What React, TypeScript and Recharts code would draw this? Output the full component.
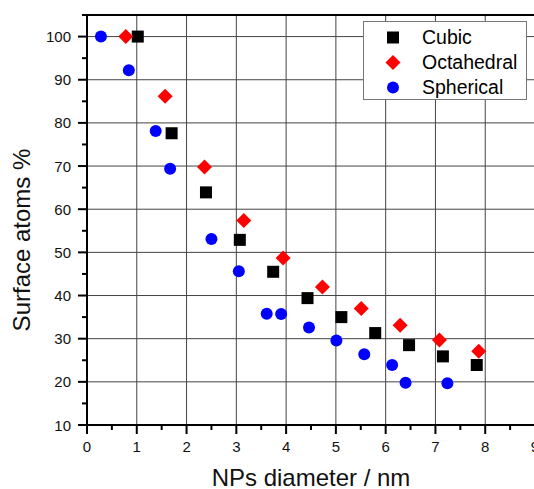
import {
  Legend,
  ReferenceLine,
  Scatter,
  ScatterChart,
  XAxis,
  YAxis,
} from "recharts";

const FONT = '"Liberation Sans", Arial, sans-serif';

const cubicX = [1.02, 1.7, 2.39, 3.07, 3.74, 4.43, 5.11, 5.79, 6.47, 7.15, 7.83];
const cubicY = [100, 77.6, 63.9, 52.9, 45.5, 39.4, 35.0, 31.3, 28.5, 25.9, 23.9];
const octaX = [0.78, 1.57, 2.36, 3.15, 3.94, 4.73, 5.51, 6.29, 7.08, 7.87];
const octaY = [100, 86.2, 69.8, 57.4, 48.7, 42.0, 37.0, 33.1, 29.7, 27.1];
const spherX = [0.28, 0.84, 1.38, 1.67, 2.5, 3.05, 3.61, 3.9, 4.46, 5.01, 5.57, 6.13, 6.4, 7.24];
const spherY = [100, 92.2, 78.1, 69.4, 53.1, 45.6, 35.8, 35.7, 32.6, 29.6, 26.4, 23.9, 19.8, 19.7];

const xTicks = [0, 0.5, 1, 1.5, 2, 2.5, 3, 3.5, 4, 4.5, 5, 5.5, 6, 6.5, 7, 7.5, 8, 8.5, 9];
const yTicks = [10, 15, 20, 25, 30, 35, 40, 45, 50, 55, 60, 65, 70, 75, 80, 85, 90, 95, 100, 105];
const xGrid = [1, 2, 3, 4, 5, 6, 7, 8];
const yGrid = [20, 30, 40, 50, 60, 70, 80, 90, 100];

const zip = (xs: number[], ys: number[]) => xs.map((x, i) => ({ x, y: ys[i] }));

const SquareDot = ({ cx, cy }: any) => <rect x={cx - 6} y={cy - 6} width={12} height={12} fill="#000" />;
const DiamondDot = ({ cx, cy }: any) => (
  <path d={`M${cx},${cy - 7.5}L${cx + 7.5},${cy}L${cx},${cy + 7.5}L${cx - 7.5},${cy}Z`} fill="#ff0000" />
);
const CircleDot = ({ cx, cy }: any) => <circle cx={cx} cy={cy} r={6} fill="#0000ff" />;

const series = [
  { name: "Cubic", data: zip(cubicX, cubicY), shape: SquareDot },
  { name: "Octahedral", data: zip(octaX, octaY), shape: DiamondDot },
  { name: "Spherical", data: zip(spherX, spherY), shape: CircleDot },
];

const isMajor = (v: number) => v % 1 === 0;

function XTick({ x, y, payload }: any) {
  const v = payload.value;
  const major = isMajor(v);
  return (
    <g>
      <line x1={x} x2={x} y1={y} y2={y + (major ? 9 : 5)} stroke="#000" strokeWidth={2} />
      {major && (
        <text x={x} y={y + 27} textAnchor="middle" fontSize={15} fontFamily={FONT} fill="#111">
          {v}
        </text>
      )}
    </g>
  );
}

function YTick({ x, y, payload }: any) {
  const v = payload.value;
  const major = v % 10 === 0;
  return (
    <g>
      <line x1={x - (major ? 9 : 5)} x2={x} y1={y} y2={y} stroke="#000" strokeWidth={2} />
      {major && (
        <text x={x - 16} y={y + 5.5} textAnchor="end" fontSize={15} fontFamily={FONT} fill="#111">
          {v}
        </text>
      )}
    </g>
  );
}

function LegendBox() {
  return (
    <div
      style={{
        background: "#fff",
        border: "1px solid #777",
        boxSizing: "border-box",
        width: 164,
        height: 79,
        paddingTop: 3,
        fontFamily: FONT,
        fontSize: 19.5,
        color: "#000",
      }}
    >
      {series.map((s) => (
        <div key={s.name} style={{ display: "flex", alignItems: "center", height: 25 }}>
          <svg width={58} height={25} style={{ display: "block" }}>
            <s.shape cx={29} cy={12.5} />
          </svg>
          <span>{s.name}</span>
        </div>
      ))}
    </div>
  );
}

export default function App() {
  return (
    <div style={{ position: "absolute", left: 0, top: 0, width: 534, height: 489, overflow: "hidden", background: "#fff" }}>
      <ScatterChart width={545} height={489} margin={{ top: 15, right: 10, bottom: 0, left: 0 }}>
        <XAxis
          type="number"
          dataKey="x"
          domain={[0, 9]}
          ticks={xTicks}
          interval={0}
          tickSize={0}
          tickMargin={0}
          tickLine={false}
          tick={<XTick />}
          height={64}
          axisLine={{ stroke: "#000", strokeWidth: 2 }}
          label={{
            value: "NPs diameter / nm",
            position: "insideBottom",
            offset: 3,
            fontSize: 24,
            fontFamily: FONT,
            fill: "#111",
          }}
        />
        <YAxis
          type="number"
          dataKey="y"
          domain={[10, 105]}
          ticks={yTicks}
          interval={0}
          tickSize={0}
          tickMargin={0}
          tickLine={false}
          tick={<YTick />}
          width={87}
          axisLine={{ stroke: "#000", strokeWidth: 2 }}
          label={{
            value: "Surface atoms %",
            angle: -90,
            position: "insideLeft",
            offset: 21,
            dy: 20,
            style: { textAnchor: "middle" },
            fontSize: 24,
            fontFamily: FONT,
            fill: "#111",
          }}
        />
        {xGrid.map((v) => (
          <ReferenceLine key={"x" + v} x={v} stroke="#444" strokeWidth={1} />
        ))}
        {yGrid.map((v) => (
          <ReferenceLine key={"y" + v} y={v} stroke="#444" strokeWidth={1} />
        ))}
        <ReferenceLine y={105} stroke="#000" strokeWidth={2} />
        <ReferenceLine x={9} stroke="#000" strokeWidth={2} />
        {series.map((s) => (
          <Scatter key={s.name} name={s.name} data={s.data} shape={s.shape} isAnimationActive={false} />
        ))}
        <Legend
          layout="horizontal"
          verticalAlign="middle"
          align="center"
          content={<LegendBox />}
          wrapperStyle={{ left: 363, top: 21, width: 164, height: 79 }}
        />
      </ScatterChart>
    </div>
  );
}
